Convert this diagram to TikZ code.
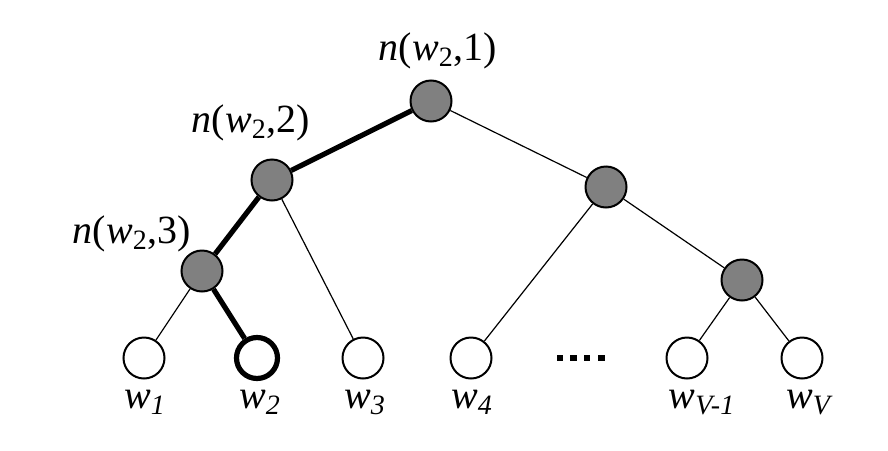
\documentclass[tikz,border=0pt]{standalone}
\usepackage{fontspec}
\setmainfont{Liberation Serif}

\begin{document}
\begin{tikzpicture}[x=0.5pt,y=0.5pt,yscale=-1,
  inner/.style={circle,draw,line width=1pt,fill=gray,minimum size=20.5pt,inner sep=0pt},
  leaf/.style={circle,draw,line width=1pt,fill=white,minimum size=20.5pt,inner sep=0pt},
  thin/.style={line width=0.6pt},
  thick path/.style={line width=2.6pt},
  lbl/.style={anchor=base,inner sep=0pt,font=\fontsize{20}{24}\selectfont},
  leaflbl/.style={anchor=base,inner sep=0pt,font=\fontsize{20}{24}\selectfont}]
\path[use as bounding box] (0,0) rectangle (888,450);

%Shape: Circle (inner nodes)
\node [inner] (root) at (431,101) {};
\node [inner] (nl) at (272,180) {};
\node [inner] (nr) at (606,187) {};
\node [inner] (nll) at (202,271) {};
\node [inner] (nrr) at (742,280) {};
%Shape: Circle (leaves)
\node [leaf] (w1) at (144,358) {};
\node [leaf,line width=2.6pt] (w2) at (257,358) {};
\node [leaf] (w3) at (363,358) {};
\node [leaf] (w4) at (471,358) {};
\node [leaf] (wv1) at (687,358) {};
\node [leaf] (wv) at (802,358) {};

%Straight Lines
\draw [thick path] (root) -- (nl);
\draw [thick path] (nl) -- (nll);
\draw [thick path] (nll) -- (w2);
\draw [thin] (root) -- (nr);
\draw [thin] (nl) -- (w3);
\draw [thin] (nll) -- (w1);
\draw [thin] (nr) -- (w4);
\draw [thin] (nr) -- (nrr);
\draw [thin] (nrr) -- (wv1);
\draw [thin] (nrr) -- (wv);

%Shape: Dots
\foreach \x in {560,573.5,587,601.5}
  \fill (\x-3.3,354.7) rectangle (\x+3.3,361.3);

% Text Node
\node [lbl] (lroot) at (438,60) {\textit{n}(\textit{w}\textsubscript{2},1)};
% Text Node
\node [lbl] (lnl) at (251,132) {\textit{n}(\textit{w}\textsubscript{2},2)};
% Text Node
\node [lbl] (lnll) at (132,243) {\textit{n}(\textit{w}\textsubscript{2},3)};
% Text Node
\node [leaflbl] (lw1) at (145,408) {\textit{w}\textsubscript{\textit{1}}};
\node [leaflbl] (lw2) at (260,408) {\textit{w}\textsubscript{\textit{2}}};
\node [leaflbl] (lw3) at (365,408) {\textit{w}\textsubscript{\textit{3}}};
\node [leaflbl] (lw4) at (472,408) {\textit{w}\textsubscript{\textit{4}}};
\node [leaflbl] (lwv1) at (702,408) {\textit{w}\textsubscript{\textit{V-1}}};
\node [leaflbl] (lwv) at (810,408) {\textit{w}\textsubscript{\textit{V}}};
\end{tikzpicture}
\end{document}
